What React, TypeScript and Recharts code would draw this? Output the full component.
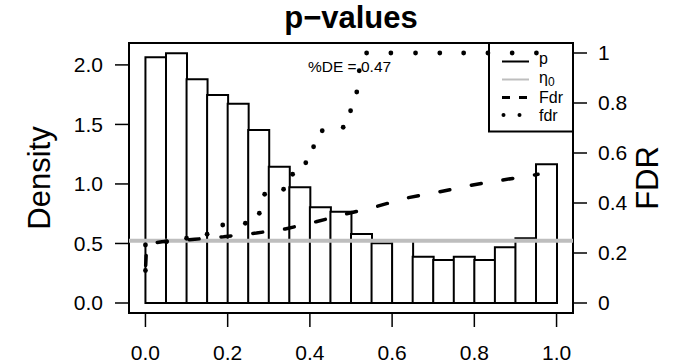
import React from "react";
import {
    ComposedChart,
    Bar,
    Line,
    XAxis,
    YAxis,
    ReferenceLine,
    ReferenceArea,
} from "recharts";

// histogram of p-values (bin midpoints, density)
const binMid = [
    0.025, 0.075, 0.125, 0.175, 0.225, 0.275, 0.325, 0.375, 0.425, 0.475,
    0.525, 0.575, 0.625, 0.675, 0.725, 0.775, 0.825, 0.875, 0.925, 0.975,
];
const density = [
    2.064, 2.098, 1.879, 1.747, 1.674, 1.453, 1.145, 0.972, 0.804, 0.767,
    0.58, 0.501, 0.53, 0.389, 0.361, 0.389, 0.361, 0.468, 0.543, 1.165,
];

// estimated proportion of nulls
const eta0 = 0.523;
const pctDE = 0.47;

// cumulative Fdr curve
const FdrP = [0, 0.003, 0.04, 0.12, 0.19, 0.27, 0.34, 0.415, 0.485, 0.56, 0.635, 0.71, 0.79, 0.86, 0.94, 0.955];
const FdrVal = [0.13, 0.235, 0.245, 0.255, 0.265, 0.28, 0.296, 0.325, 0.355, 0.385, 0.42, 0.443, 0.47, 0.49, 0.51, 0.515];

// local fdr curve
const fdrP = [
    0, 0, 0.051, 0.1, 0.15, 0.188, 0.243, 0.277, 0.29, 0.336, 0.358, 0.39, 0.409,
    0.43, 0.481, 0.499, 0.514, 0.52, 0.538, 0.597, 0.657, 0.716, 0.774, 0.833, 0.892, 0.951,
];
const fdrVal = [
    0.13, 0.232, 0.245, 0.259, 0.275, 0.312, 0.319, 0.359, 0.435, 0.455, 0.515, 0.561, 0.625,
    0.689, 0.703, 0.769, 0.844, 0.929, 1, 1, 1, 1, 1, 1, 1, 1,
];

const xTicks = [0, 0.2, 0.4, 0.6, 0.8, 1];
const densityTicks = [0, 0.5, 1, 1.5, 2];
const fdrTicks = [0, 0.2, 0.4, 0.6, 0.8, 1];

const font = "'Liberation Sans', Arial, Helvetica, sans-serif";

const bins = binMid.map((x, i) => ({ x, density: density[i] }));
const FdrData = FdrP.map((x, i) => ({ x, Fdr: FdrVal[i] }));
const fdrData = fdrP.map((x, i) => ({ x, fdr: fdrVal[i] }));

const tickStyle = { fill: "#000", fontSize: 21, fontFamily: font };
const tickLine = { stroke: "#000", strokeWidth: 1.5 };

const LegendBox = () => (
    <g fontFamily={font} fontSize={16} fill="#000">
        <rect x={489} y={43} width={84} height={88.5} fill="none" stroke="#000" strokeWidth={2} />
        <line x1={502} x2={529} y1={61.5} y2={61.5} stroke="#000" strokeWidth={2} />
        <text x={539} y={63.5}>p</text>
        <line x1={502} x2={529} y1={79.5} y2={79.5} stroke="#bebebe" strokeWidth={2} />
        <text x={539} y={83}>
            η<tspan fontSize={12} dy={3}>0</tspan>
        </text>
        <line x1={502} x2={529} y1={97.5} y2={97.5} stroke="#000" strokeWidth={3} strokeDasharray="8 9" />
        <text x={539} y={102.5}>Fdr</text>
        <circle cx={503.5} cy={115} r={2} fill="#000" />
        <circle cx={519.5} cy={115} r={2} fill="#000" />
        <text x={539} y={120.5}>fdr</text>
    </g>
);

const Labels = () => (
    <g fontFamily={font} fill="#000">
        <text x={351} y={28} textAnchor="middle" fontSize={31} fontWeight="bold">
            p−values
        </text>
        <text transform="translate(50,178) rotate(-90)" textAnchor="middle" fontSize={31}>
            Density
        </text>
        <text transform="translate(658,178) rotate(-90)" textAnchor="middle" fontSize={31}>
            FDR
        </text>
        <text x={308} y={71.5} fontSize={15.5}>
            %DE = {pctDE.toFixed(2)}
        </text>
    </g>
);

export default function App() {
    return (
        <div style={{ position: "absolute", left: 0, top: 0, background: "#fff" }}>
            <ComposedChart
                width={684}
                height={363}
                data={bins}
                barCategoryGap={0}
                barGap={0}
                margin={{ top: 43, right: 41, bottom: 10, left: 59 }}
            >
                <XAxis
                    dataKey="x"
                    type="number"
                    domain={[-0.04, 1.04]}
                    allowDataOverflow
                    ticks={xTicks}
                    tickFormatter={(v: number) => v.toFixed(1)}
                    axisLine={false}
                    tickLine={tickLine}
                    tickSize={14}
                    tickMargin={18}
                    tick={tickStyle}
                    height={40}
                />
                <XAxis
                    xAxisId="bins"
                    dataKey="x"
                    type="number"
                    domain={[-0.04, 1.04]}
                    allowDataOverflow
                    hide
                    height={40}
                />
                <YAxis
                    yAxisId="left"
                    type="number"
                    domain={[-0.084, 2.184]}
                    allowDataOverflow
                    ticks={densityTicks}
                    tickFormatter={(v: number) => v.toFixed(1)}
                    axisLine={false}
                    tickLine={tickLine}
                    tickSize={14}
                    tickMargin={12}
                    tick={tickStyle}
                    width={70}
                />
                <YAxis
                    yAxisId="right"
                    orientation="right"
                    type="number"
                    domain={[-0.04, 1.04]}
                    allowDataOverflow
                    ticks={fdrTicks}
                    tickFormatter={(v: number) => String(v)}
                    axisLine={false}
                    tickLine={tickLine}
                    tickSize={14}
                    tickMargin={11}
                    tick={tickStyle}
                    width={70}
                />
                <Bar
                    xAxisId="bins"
                    yAxisId="left"
                    dataKey="density"
                    fill="#fff"
                    stroke="#000"
                    strokeWidth={2}
                    isAnimationActive={false}
                />
                <ReferenceLine yAxisId="left" y={eta0} stroke="#bebebe" strokeWidth={4} />
                <LegendBox />
                <Line
                    yAxisId="right"
                    data={FdrData}
                    dataKey="Fdr"
                    type="linear"
                    stroke="#000"
                    strokeWidth={3.5}
                    strokeDasharray="10 22"
                    strokeDashoffset={27}
                    strokeLinecap="round"
                    dot={false}
                    isAnimationActive={false}
                />
                <Line
                    yAxisId="right"
                    data={fdrData}
                    dataKey="fdr"
                    type="linear"
                    stroke="none"
                    dot={{ r: 2.4, fill: "#000", stroke: "none" }}
                    isAnimationActive={false}
                />
                <ReferenceArea
                    yAxisId="left"
                    x1={-0.04}
                    x2={1.04}
                    y1={-0.084}
                    y2={2.184}
                    ifOverflow="visible"
                    fill="none"
                    stroke="#000"
                    strokeWidth={2}
                    fillOpacity={0}
                />
                <Labels />
            </ComposedChart>
        </div>
    );
}
